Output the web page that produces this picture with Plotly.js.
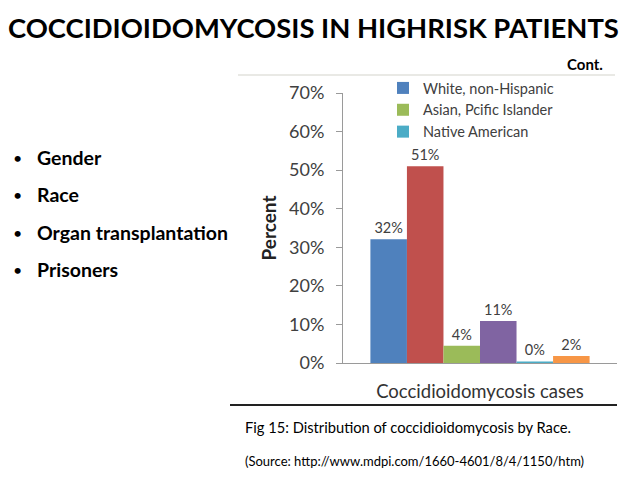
<!DOCTYPE html>
<html>
<head>
<meta charset="utf-8">
<script src="https://cdn.plot.ly/plotly-3.0.1.min.js"></script>
<style>html,body{margin:0;padding:0;background:#fff;}#chart{width:638px;height:479px;}</style>
</head>
<body>
<div id="chart"></div>
<script>
// ---- data ----
var seriesNames = ["White, non-Hispanic", "Black, non-Hispanic", "Asian, Pcific Islander", "Hispanic", "Native American", "Other"];
var seriesValues = [32.1, 51, 4.5, 10.9, 0.4, 1.8];
var seriesLabels = ["32%", "51%", "4%", "11%", "0%", "2%"];
var seriesColors = ["#4F81BD", "#C0504D", "#9BBB59", "#8064A2", "#4BACC6", "#F79646"];
var legendShown = [true, false, true, false, true, false];
var category = ["Coccidioidomycosis cases"];
var yTicks = [0, 10, 20, 30, 40, 50, 60, 70];
var bullets = ["Gender", "Race", "Organ transplantation", "Prisoners"];
var slideTitle = "COCCIDIOIDOMYCOSIS IN HIGHRISK PATIENTS";
var caption = "Fig 15: Distribution of coccidioidomycosis by Race.";
var source = "(Source: http://www.mdpi.com/1660-4601/8/4/1150/htm)";

// ---- layout geometry ----
var W = 638, H = 479;
var L = 343, R = 617, T = 93, B = 363;
function px(x) { return (x - L) / (R - L); }
function py(y) { return (B - y) / (B - T); }

var FONT = "Lato, 'Open Sans', sans-serif";
var traces = seriesNames.map(function (n, i) {
  return {
    type: "bar", name: n, x: category, y: [seriesValues[i]],
    text: [seriesLabels[i]], textposition: "outside", cliponaxis: false,
    textfont: { family: FONT, size: 14.5, color: "#404040" },
    marker: { color: seriesColors[i] },
    showlegend: legendShown[i], hoverinfo: "name+y"
  };
});

var annotations = [
  { text: "<b>" + slideTitle + "</b>", x: px(313), y: py(27), xref: "paper", yref: "paper", xanchor: "center", yanchor: "middle", showarrow: false, font: { family: FONT, size: 27.4, color: "#000" } },
  { text: "<b>Cont.</b>", x: px(605), y: py(64), xref: "paper", yref: "paper", xanchor: "right", yanchor: "middle", showarrow: false, font: { family: FONT, size: 15, color: "#000" } },
  { text: caption, x: px(243), y: py(427), xref: "paper", yref: "paper", xanchor: "left", yanchor: "middle", showarrow: false, font: { family: FONT, size: 14.7, color: "#000" } },
  { text: source, x: px(243), y: py(461), xref: "paper", yref: "paper", xanchor: "left", yanchor: "middle", showarrow: false, font: { family: FONT, size: 13, color: "#000" } }
];
var bulletY = [157, 194, 232, 269];
bullets.forEach(function (b, i) {
  annotations.push({ text: "•", x: px(17), y: py(bulletY[i]), xref: "paper", yref: "paper", xanchor: "center", yanchor: "middle", showarrow: false, font: { family: FONT, size: 16, color: "#000" } });
  annotations.push({ text: "<b>" + b + "</b>", x: px(35), y: py(bulletY[i]), xref: "paper", yref: "paper", xanchor: "left", yanchor: "middle", showarrow: false, font: { family: FONT, size: 19.5, color: "#000" } });
});

var layout = {
  width: W, height: H,
  margin: { l: L, r: W - R, t: T, b: H - B, pad: 0 },
  paper_bgcolor: "#fff", plot_bgcolor: "#fff",
  barmode: "group", bargap: 0.2, bargroupgap: 0,
  font: { family: FONT, color: "#404040" },
  xaxis: {
    showticklabels: false, ticks: "", showgrid: false, zeroline: false,
    showline: true, linecolor: "#9a9a9a", linewidth: 1,
    title: { text: "Coccidioidomycosis cases", font: { family: FONT, size: 18.5, color: "#333" }, standoff: 22 },
    automargin: false
  },
  yaxis: {
    range: [0, 70], tickvals: yTicks, ticktext: yTicks.map(function (v) { return v + "%"; }),
    showgrid: false, zeroline: false, showline: true, linecolor: "#9a9a9a", linewidth: 1,
    ticks: "outside", ticklen: 6, tickcolor: "#9a9a9a", ticklabelstandoff: 8,
    tickfont: { family: FONT, size: 18, color: "#404040" },
    title: { text: "<b>Percent</b>", font: { family: FONT, size: 19, color: "#222" }, standoff: 7 },
    automargin: false
  },
  legend: {
    x: px(383), y: py(72), xanchor: "left", yanchor: "top",
    orientation: "v", bgcolor: "rgba(0,0,0,0)", borderwidth: 0,
    font: { family: FONT, size: 14.5, color: "#404040" }, itemwidth: 30, tracegroupgap: 0
  },
  shapes: [
    { type: "line", xref: "paper", yref: "paper", x0: px(238), x1: px(615), y0: py(75), y1: py(75), line: { color: "#e2e2dc", width: 1.5 } },
    { type: "line", xref: "paper", yref: "paper", x0: px(230), x1: px(617), y0: py(405), y1: py(405), line: { color: "#222", width: 2 } }
  ],
  annotations: annotations
};

Plotly.newPlot("chart", traces, layout, { displayModeBar: false, staticPlot: true });
</script>
</body>
</html>
